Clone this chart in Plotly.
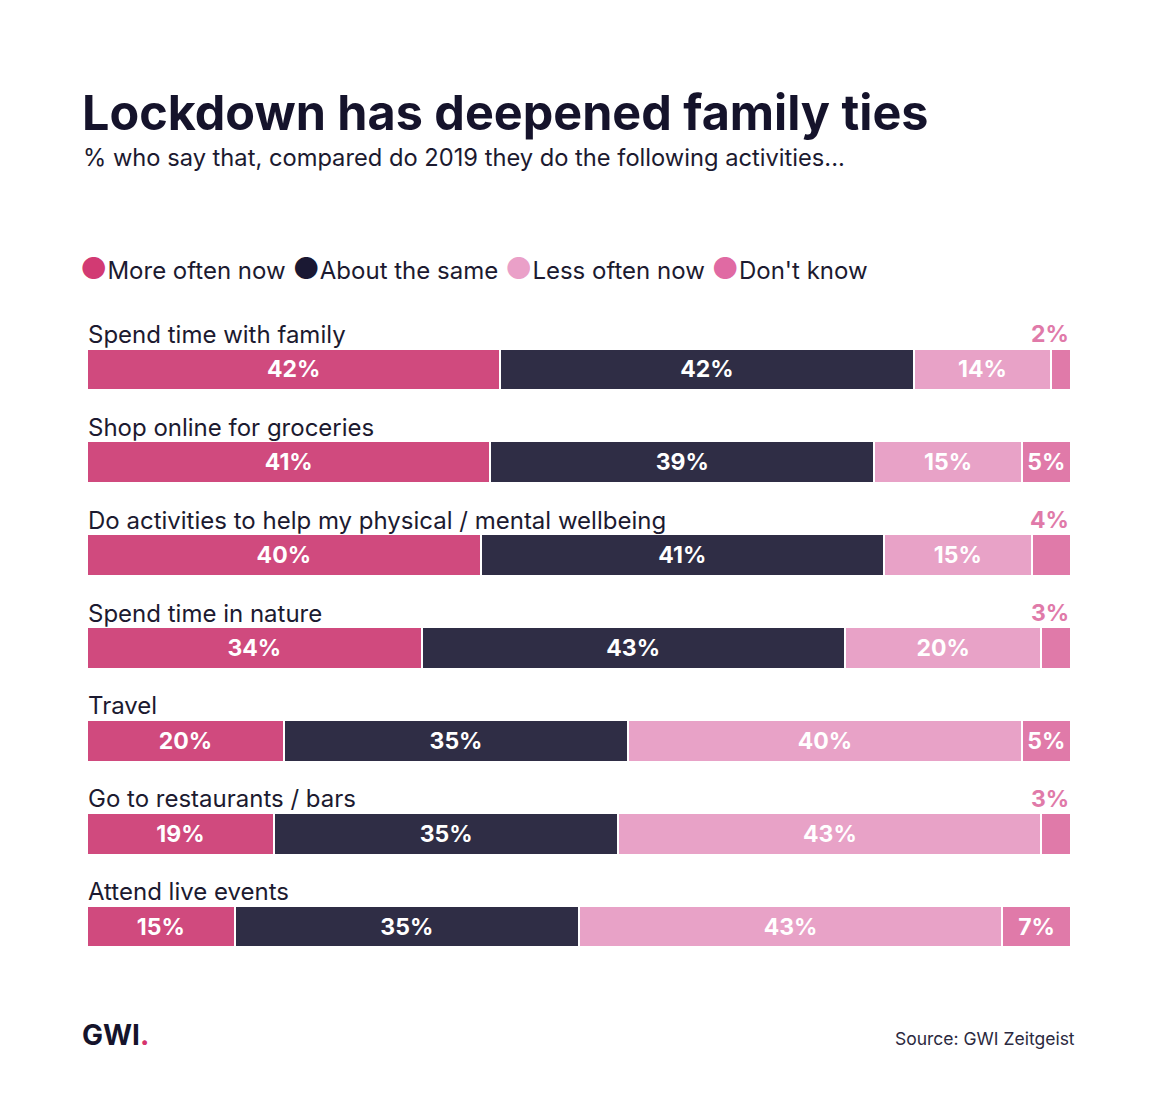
import plotly.graph_objects as go

categories = ["Spend time with family", "Shop online for groceries",
              "Do activities to help my physical / mental wellbeing",
              "Spend time in nature", "Travel", "Go to restaurants / bars",
              "Attend live events"]
more_often = [42, 41, 40, 34, 20, 19, 15]
about_same = [42, 39, 41, 43, 35, 35, 35]
less_often = [14, 15, 15, 20, 40, 43, 43]
dont_know = [2, 5, 4, 3, 5, 3, 7]

series = [
    ("More often now", more_often, "#d04a7e"),
    ("About the same", about_same, "#2f2d45"),
    ("Less often now", less_often, "#e8a2c7"),
    ("Don't know", dont_know, "#e07aa9"),
]
legend_dot_colors = ["#d23a73", "#1a1833", "#eaa0c8", "#e06aa3"]

FONT = "Inter"
OFF = 8  # body margin of the html page
W, H = 1160 - 2 * OFF, 1113 - 2 * OFF
ML = 87 - OFF
MT = 322.5 - OFF
PW, PH = 984, 651
MR = W - ML - PW
MB = H - MT - PH

def py(ypix):  # page pixel -> paper y
    return (MT + PH - (ypix - OFF)) / PH

def px(xpix):  # page pixel -> paper x
    return ((xpix - OFF) - ML) / PW

fig = go.Figure()
for name, vals, color in series:
    texts = [f"{v}%" if v >= 5 else "" for v in vals]
    fig.add_trace(go.Bar(
        y=categories, x=vals, orientation="h", name=name,
        marker=dict(color=color, line=dict(color="white", width=2)),
        text=texts, textposition="inside", insidetextanchor="middle",
        textfont=dict(family=FONT, size=23, color="white", weight=700),
        showlegend=False, hoverinfo="skip", cliponaxis=False,
    ))

annotations = []
for i, cat in enumerate(categories):
    annotations.append(dict(
        x=0, y=cat, xref="x", yref="y", text=cat, showarrow=False,
        xanchor="left", yanchor="middle", yshift=35, xshift=-1,
        font=dict(family=FONT, size=24, color="#1c1a30"),
    ))
    if dont_know[i] < 5:
        annotations.append(dict(
            x=100, y=cat, xref="x", yref="y", text=f"{dont_know[i]}%",
            showarrow=False, xanchor="right", yanchor="middle", yshift=35,
            font=dict(family=FONT, size=23, color="#e07aa9", weight=700),
        ))

# Title and subtitle
annotations.append(dict(
    x=px(80), y=py(112), xref="paper", yref="paper",
    text="<b>Lockdown has deepened family ties</b>", showarrow=False,
    xanchor="left", yanchor="middle",
    font=dict(family=FONT, size=48.5, color="#15132b"),
))
annotations.append(dict(
    x=px(81), y=py(157), xref="paper", yref="paper",
    text="% who say that, compared do 2019 they do the following activities...",
    showarrow=False, xanchor="left", yanchor="middle",
    font=dict(family=FONT, size=23.7, color="#1c1a30"),
))

# Legend
legend_parts = []
for (name, _, _), dc in zip(series, legend_dot_colors):
    legend_parts.append(
        f"<span style='color:{dc};font-size:30px'>●</span>{name}")
annotations.append(dict(
    x=px(78), y=py(267), xref="paper", yref="paper",
    text=" ".join(legend_parts), showarrow=False,
    xanchor="left", yanchor="middle",
    font=dict(family=FONT, size=24, color="#1c1a30"),
))

# Logo and source
annotations.append(dict(
    x=px(80), y=py(1036), xref="paper", yref="paper",
    text="<b>GWI</b><b><span style='color:#d6336c'>.</span></b>",
    showarrow=False, xanchor="left", yanchor="middle",
    font=dict(family=FONT, size=28, color="#15132b"),
))
annotations.append(dict(
    x=px(1077), y=py(1039), xref="paper", yref="paper",
    text="Source: GWI Zeitgeist", showarrow=False,
    xanchor="right", yanchor="middle",
    font=dict(family=FONT, size=17.5, color="#2b2940"),
))

fig.update_layout(
    width=W, height=H, barmode="stack", bargap=0.55,
    margin=dict(l=ML, r=MR, t=MT, b=MB),
    paper_bgcolor="white", plot_bgcolor="white",
    xaxis=dict(range=[0, 100], visible=False, fixedrange=True),
    yaxis=dict(range=[len(categories) - 0.5, -0.5], visible=False,
               fixedrange=True),
    annotations=annotations,
    uniformtext=dict(minsize=23, mode="show"),
)
fig.write_html("out.html")
